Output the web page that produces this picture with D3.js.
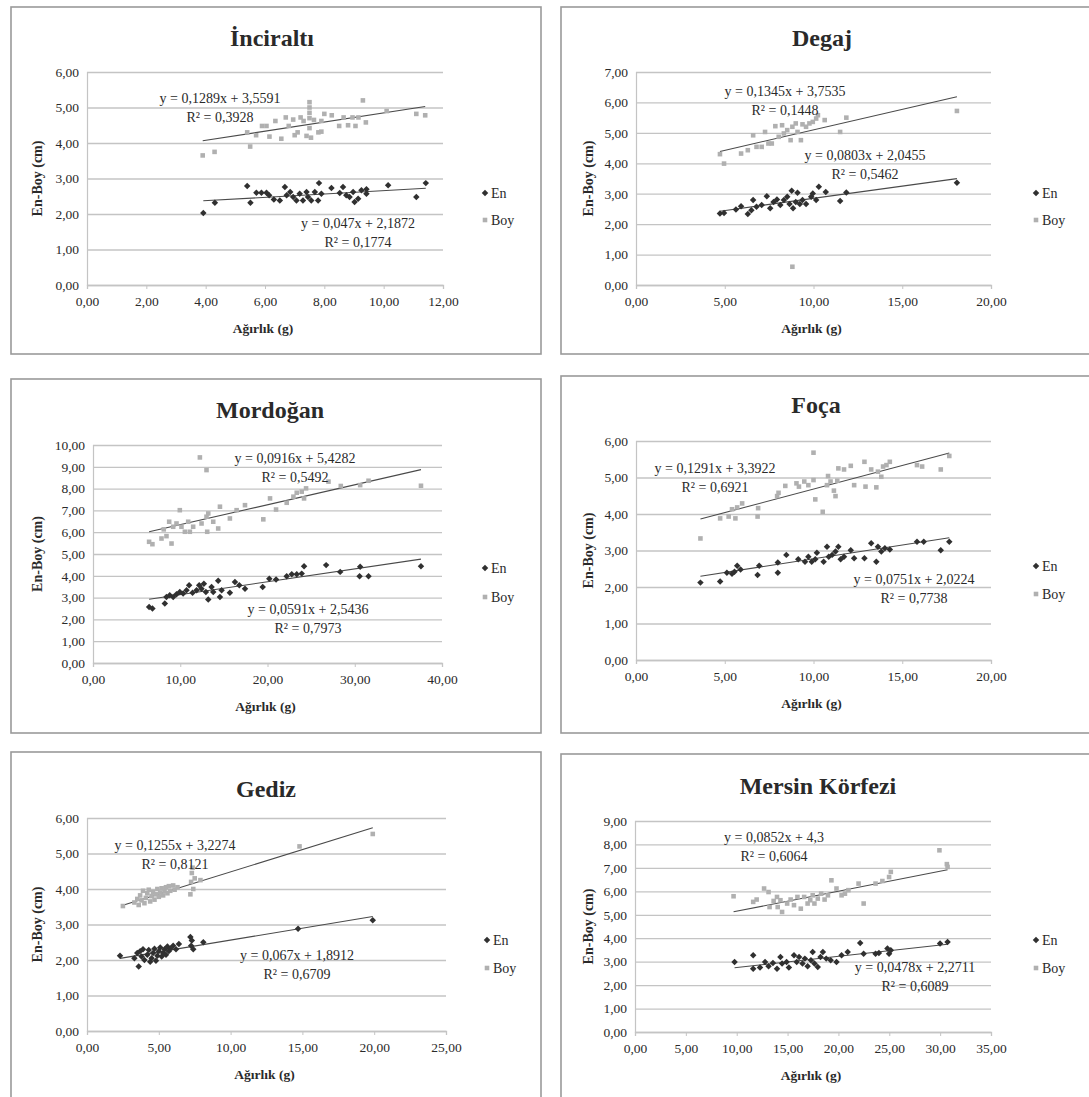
<!DOCTYPE html>
<html>
<head>
<meta charset="utf-8">
<script src="https://cdn.jsdelivr.net/npm/d3@7"></script>
<style>
  body { margin: 0; background: #fff; }
  svg { display: block; }
  text { font-family: "Liberation Serif", "Times New Roman", serif; fill: #2a2a2a; }
</style>
</head>
<body>
<svg id="chart" width="1089" height="1097"></svg>
<script>
// ---- Data ---------------------------------------------------------------
const titles = ["İnciraltı", "Degaj", "Mordoğan", "Foça", "Gediz", "Mersin Körfezi"];
const seriesNames = ["En", "Boy"];
const xAxisTitle = "Ağırlık (g)";
const yAxisTitle = "En-Boy (cm)";

const xTickValues = [
  [0, 2, 4, 6, 8, 10, 12],
  [0, 5, 10, 15, 20],
  [0, 10, 20, 30, 40],
  [0, 5, 10, 15, 20],
  [0, 5, 10, 15, 20, 25],
  [0, 5, 10, 15, 20, 25, 30, 35]
];
const yTickValues = [
  [0, 1, 2, 3, 4, 5, 6],
  [0, 1, 2, 3, 4, 5, 6, 7],
  [0, 1, 2, 3, 4, 5, 6, 7, 8, 9, 10],
  [0, 1, 2, 3, 4, 5, 6],
  [0, 1, 2, 3, 4, 5, 6],
  [0, 1, 2, 3, 4, 5, 6, 7, 8, 9]
];

// trend line coefficients (y = slope * x + intercept) and R²
const enSlopes = [0.047, 0.0803, 0.0591, 0.0751, 0.067, 0.0478];
const enIntercepts = [2.1872, 2.0455, 2.5436, 2.0224, 1.8912, 2.2711];
const enR2 = [0.1774, 0.5462, 0.7973, 0.7738, 0.6709, 0.6089];
const boySlopes = [0.1289, 0.1345, 0.0916, 0.1291, 0.1255, 0.0852];
const boyIntercepts = [3.5591, 3.7535, 5.4282, 3.3922, 3.2274, 4.3];
const boyR2 = [0.3928, 0.1448, 0.5492, 0.6921, 0.8121, 0.6064];

// [weight g, size cm]
const inciraltiEn = [[3.92,2.03],[4.31,2.32],[5.4,2.79],[5.51,2.32],[5.71,2.6],[5.88,2.6],[6.05,2.6],[6.14,2.53],[6.3,2.41],[6.5,2.38],[6.67,2.76],[6.73,2.53],[6.85,2.62],[6.95,2.48],[7.06,2.38],[7.17,2.57],[7.28,2.38],[7.4,2.62],[7.45,2.48],[7.56,2.38],[7.68,2.62],[7.79,2.38],[7.82,2.87],[7.9,2.57],[8.24,2.73],[8.52,2.59],[8.63,2.76],[8.74,2.53],[8.85,2.48],[8.97,2.62],[9.02,2.34],[9.14,2.43],[9.25,2.67],[9.42,2.57],[9.42,2.7],[10.15,2.81],[11.1,2.48],[11.42,2.87]];
const inciraltiBoy = [[3.9,3.65],[4.3,3.75],[5.4,4.3],[5.5,3.9],[5.7,4.22],[5.9,4.48],[6.05,4.48],[6.15,4.18],[6.35,4.62],[6.55,4.12],[6.7,4.72],[6.8,4.48],[6.95,4.66],[7.0,4.22],[7.1,4.3],[7.2,4.72],[7.3,4.62],[7.4,4.2],[7.5,5.15],[7.5,5.0],[7.5,4.85],[7.5,4.7],[7.5,4.42],[7.55,4.15],[7.65,4.65],[7.8,4.3],[7.9,4.62],[7.9,4.32],[8.0,4.82],[8.25,4.78],[8.5,4.48],[8.65,4.72],[8.8,4.5],[8.95,4.72],[9.05,4.48],[9.15,4.72],[9.3,5.2],[9.4,4.58],[10.1,4.9],[11.1,4.82],[11.4,4.78]];

const degajEn = [[4.73,2.35],[4.96,2.37],[5.63,2.48],[5.92,2.59],[6.3,2.33],[6.5,2.46],[6.6,2.79],[6.79,2.57],[7.08,2.63],[7.37,2.92],[7.56,2.52],[7.75,2.73],[7.94,2.81],[8.13,2.63],[8.33,2.79],[8.52,2.9],[8.65,2.66],[8.77,3.1],[8.85,2.52],[9.0,2.73],[9.1,3.03],[9.23,2.66],[9.38,2.79],[9.58,2.66],[9.87,2.9],[9.96,3.01],[10.15,2.79],[10.3,3.23],[10.69,3.06],[11.5,2.76],[11.85,3.04],[18.08,3.36]];
const degajBoy = [[4.73,4.3],[4.96,3.99],[5.92,4.32],[6.3,4.43],[6.6,4.92],[6.79,4.54],[7.08,4.54],[7.27,5.03],[7.46,4.65],[7.65,4.65],[7.85,5.22],[8.04,4.87],[8.23,5.25],[8.33,4.98],[8.52,5.09],[8.71,4.76],[8.81,5.2],[9.0,5.31],[9.1,5.03],[9.29,4.76],[9.38,5.28],[9.58,5.2],[9.77,5.31],[9.96,5.36],[10.15,5.47],[10.25,5.58],[10.63,5.42],[11.5,5.03],[11.85,5.5],[18.08,5.72],[8.81,0.6]];

const mordoganEn = [[6.43,2.57],[6.81,2.5],[8.23,2.73],[8.42,3.03],[8.8,3.11],[9.19,3.03],[9.57,3.15],[9.95,3.26],[10.33,3.19],[10.72,3.34],[11.02,3.57],[11.41,3.22],[11.87,3.34],[12.17,3.57],[12.44,3.41],[12.71,3.64],[12.94,3.26],[13.21,2.91],[13.59,3.49],[13.78,3.26],[14.35,3.77],[14.55,3.03],[14.74,3.34],[15.69,3.22],[16.27,3.72],[16.77,3.57],[17.42,3.41],[19.45,3.49],[20.21,3.87],[20.98,3.83],[22.2,3.98],[22.78,4.07],[23.35,4.07],[23.92,4.1],[24.19,4.44],[26.72,4.49],[28.33,4.18],[30.62,4.41],[30.55,3.98],[31.58,3.98],[37.59,4.44]];
const mordoganBoy = [[6.43,5.56],[6.81,5.45],[7.85,5.71],[8.11,6.13],[8.42,5.82],[8.73,6.48],[9.0,5.48],[9.19,6.25],[9.57,6.4],[9.95,7.01],[10.14,6.25],[10.53,6.02],[10.91,6.48],[11.1,6.02],[11.48,6.25],[12.25,9.43],[12.44,6.4],[13.01,8.85],[13.01,6.71],[13.21,6.86],[13.09,6.02],[13.78,6.48],[14.35,6.17],[14.55,7.17],[15.69,6.63],[16.46,7.01],[17.42,7.24],[19.52,6.59],[20.29,7.55],[20.98,7.04],[22.2,7.35],[22.97,7.63],[23.35,7.81],[23.92,7.86],[24.19,7.55],[24.42,8.01],[26.99,8.32],[28.4,8.12],[30.62,8.16],[31.58,8.36],[37.59,8.13]];

const focaEn = [[3.63,2.12],[4.74,2.15],[5.12,2.39],[5.41,2.36],[5.55,2.42],[5.7,2.58],[5.89,2.48],[6.85,2.33],[6.94,2.58],[7.99,2.67],[7.99,2.39],[8.47,2.88],[9.14,2.76],[9.52,2.69],[9.71,2.83],[9.9,2.69],[10.1,2.76],[10.19,2.94],[10.57,2.69],[10.76,3.1],[10.86,2.83],[11.05,2.88],[11.24,2.97],[11.4,3.1],[11.53,2.76],[11.72,2.83],[12.1,3.01],[12.29,2.79],[12.87,2.79],[13.25,3.2],[13.54,2.69],[13.63,3.1],[13.82,2.97],[14.02,3.06],[14.3,3.03],[15.83,3.24],[16.21,3.24],[17.17,3.01],[17.65,3.24]];
const focaBoy = [[3.63,3.33],[4.74,3.88],[5.22,3.93],[5.41,4.13],[5.6,3.88],[5.7,4.18],[5.98,4.29],[6.85,3.93],[6.88,4.16],[7.95,4.49],[8.03,4.58],[8.41,4.77],[9.04,4.84],[9.18,4.75],[9.48,4.89],[9.71,4.79],[10.0,5.68],[10.0,4.93],[10.1,4.4],[10.52,4.06],[10.76,4.79],[10.82,5.04],[10.96,4.89],[11.15,4.64],[11.24,4.49],[11.34,4.91],[11.4,5.25],[11.72,5.22],[12.1,5.32],[12.29,4.79],[12.87,5.43],[12.93,4.75],[13.25,5.22],[13.54,4.73],[13.63,5.16],[13.82,5.02],[13.92,5.3],[14.11,5.34],[14.3,5.43],[15.83,5.34],[16.12,5.3],[17.17,5.22],[17.65,5.59]];

const gedizEn = [[2.3,2.12],[3.3,2.05],[3.5,2.2],[3.6,1.82],[3.7,2.25],[3.8,2.1],[3.9,2.3],[4.0,2.0],[4.2,2.15],[4.3,2.28],[4.4,1.95],[4.5,2.05],[4.6,2.2],[4.7,2.32],[4.8,1.98],[4.9,2.12],[5.0,2.25],[5.1,2.35],[5.2,2.1],[5.3,2.2],[5.4,2.3],[5.5,2.15],[5.6,2.38],[5.7,2.25],[5.8,2.32],[6.0,2.4],[6.2,2.3],[6.4,2.45],[7.2,2.65],[7.25,2.4],[7.3,2.55],[7.4,2.3],[8.1,2.5],[14.7,2.88],[19.9,3.12]];
const gedizBoy = [[2.5,3.52],[3.3,3.62],[3.5,3.72],[3.6,3.55],[3.7,3.82],[3.8,3.68],[3.9,3.95],[4.0,3.6],[4.1,3.75],[4.2,3.88],[4.3,3.98],[4.4,3.65],[4.5,3.8],[4.6,3.92],[4.7,3.7],[4.8,3.85],[4.9,4.0],[5.0,3.78],[5.1,3.9],[5.2,4.02],[5.3,3.82],[5.4,3.95],[5.5,4.05],[5.6,3.88],[5.7,4.08],[5.8,3.95],[6.0,4.1],[6.1,3.98],[6.3,4.05],[7.2,3.85],[7.25,4.2],[7.3,4.45],[7.35,4.6],[7.4,4.0],[7.5,4.3],[7.9,4.25],[14.8,5.2],[19.9,5.55]];

const mersinEn = [[9.79,2.99],[11.62,3.27],[11.62,2.7],[12.29,2.75],[12.79,2.99],[13.13,2.8],[13.56,2.94],[13.96,2.7],[14.3,3.2],[14.46,2.92],[14.9,2.99],[15.13,2.75],[15.63,3.27],[15.9,2.99],[16.13,3.2],[16.47,2.92],[16.7,3.13],[16.97,2.8],[17.3,3.06],[17.47,3.41],[17.64,2.92],[17.97,2.77],[18.24,3.2],[18.47,3.41],[18.8,3.13],[19.24,3.06],[19.81,2.99],[20.31,3.27],[20.91,3.41],[22.14,3.8],[22.48,3.34],[23.65,3.34],[23.98,3.37],[24.82,3.56],[24.98,3.34],[25.15,3.49],[29.99,3.77],[30.73,3.84]];
const mersinBoy = [[9.69,5.79],[11.62,5.55],[11.96,5.65],[12.69,6.12],[13.13,5.97],[13.23,5.33],[13.63,5.59],[13.96,5.76],[14.03,5.33],[14.3,5.62],[14.46,5.12],[14.96,5.48],[15.3,5.65],[15.63,5.41],[15.97,5.76],[16.3,5.26],[16.63,5.76],[16.97,5.48],[17.23,5.62],[17.47,5.83],[17.64,5.48],[17.97,5.69],[18.3,5.9],[18.64,5.65],[18.97,5.83],[19.31,6.47],[19.81,6.12],[20.31,5.83],[20.64,5.9],[20.98,6.05],[21.98,6.33],[22.48,5.48],[23.65,6.33],[24.32,6.44],[24.98,6.61],[25.15,6.83],[29.93,7.75],[30.66,7.16],[30.73,7.04]];

const enSeries = [inciraltiEn, degajEn, mordoganEn, focaEn, gedizEn, mersinEn];
const boySeries = [inciraltiBoy, degajBoy, mordoganBoy, focaBoy, gedizBoy, mersinBoy];

// ---- Layout (pixel geometry of each chart block) -----------------------
const frames = [
  { box: [11, 7, 530, 347],   plot: [87, 443, 72, 285],    title: [272, 38],  yTitleX: 37,  legend: [485, 193, 220],  boyEq: [220, 98],  enEq: [358, 223] },
  { box: [561, 7, 530, 347],  plot: [636, 991, 72, 285],   title: [822, 38],  yTitleX: 588, legend: [1036, 193, 220], boyEq: [785, 91],  enEq: [865, 155] },
  { box: [11, 379, 530, 354], plot: [93, 442, 445, 663],   title: [270, 410], yTitleX: 37,  legend: [485, 568, 597],  boyEq: [295, 458], enEq: [308, 609] },
  { box: [561, 376, 530, 357], plot: [636, 991, 441, 660], title: [816, 405], yTitleX: 588, legend: [1036, 566, 594], boyEq: [715, 468], enEq: [914, 579] },
  { box: [11, 752, 530, 360], plot: [87, 446, 818, 1031],  title: [266, 789], yTitleX: 37,  legend: [487, 940, 968],  boyEq: [175, 845], enEq: [297, 955] },
  { box: [561, 754, 530, 360], plot: [635, 991, 821, 1032], title: [818, 786], yTitleX: 588, legend: [1036, 940, 968], boyEq: [774, 837], enEq: [915, 967] }
];

const colors = { en: "#303030", boy: "#b0b0b0", trend: "#4a4a4a", grid: "#c4c4c4", border: "#9a9a9a" };
const serif = '"Liberation Serif", "Times New Roman", serif';
const comma = (v) => d3.format(".2f")(v).replace(".", ",");
const num = (v) => String(v).replace(".", ",");

const svg = d3.select("#chart");

titles.forEach((title, i) => {
  const f = frames[i];
  const [bx, by, bw, bh] = f.box;
  const [pl, pr, pt, pb] = f.plot;
  const g = svg.append("g");

  // chart block border
  g.append("rect")
    .attr("x", bx).attr("y", by).attr("width", bw).attr("height", bh)
    .attr("fill", "#fff").attr("stroke", colors.border).attr("stroke-width", 1.6);

  const yTicks = yTickValues[i];
  const xTicks = xTickValues[i];
  const x = d3.scaleLinear().domain([0, d3.max(xTicks)]).range([pl, pr]);
  const y = d3.scaleLinear().domain([0, d3.max(yTicks)]).range([pb, pt]);

  // horizontal gridlines + y tick labels
  const yAxis = g.append("g")
    .attr("transform", `translate(${pl},0)`)
    .call(d3.axisLeft(y).tickValues(yTicks).tickFormat(comma).tickSize(-(pr - pl)).tickPadding(8));
  yAxis.select(".domain").attr("stroke", colors.grid).attr("stroke-width", 1.2);
  yAxis.selectAll(".tick line").attr("stroke", colors.grid).attr("stroke-width", 1.3);
  yAxis.selectAll(".tick text")
    .style("font-family", serif).style("font-size", "13.5px").attr("fill", "#333");

  // x axis
  const xAxis = g.append("g")
    .attr("transform", `translate(0,${pb})`)
    .call(d3.axisBottom(x).tickValues(xTicks).tickFormat(comma).tickSize(4).tickPadding(7));
  xAxis.select(".domain").attr("stroke", colors.grid).attr("stroke-width", 1.3);
  xAxis.selectAll(".tick line").attr("stroke", colors.grid);
  xAxis.selectAll(".tick text")
    .style("font-family", serif).style("font-size", "13.5px").attr("fill", "#333");

  // titles
  g.append("text").attr("x", f.title[0]).attr("y", f.title[1])
    .attr("text-anchor", "middle").attr("dominant-baseline", "central")
    .style("font-family", serif).style("font-size", "24px").style("font-weight", "bold")
    .attr("fill", "#111").text(title);
  g.append("text").attr("x", (pl + pr) / 2 - 2).attr("y", pb + 43)
    .attr("text-anchor", "middle").attr("dominant-baseline", "central")
    .style("font-family", serif).style("font-size", "13.5px").style("font-weight", "bold")
    .text(xAxisTitle);
  g.append("text")
    .attr("transform", `translate(${f.yTitleX},${(pt + pb) / 2}) rotate(-90)`)
    .attr("text-anchor", "middle").attr("dominant-baseline", "central")
    .style("font-family", serif).style("font-size", "14px").style("font-weight", "bold")
    .text(yAxisTitle);

  // trend lines from the stated equations, across each series' weight range
  const trends = [
    { data: enSeries[i], a: enSlopes[i], b: enIntercepts[i] },
    { data: boySeries[i], a: boySlopes[i], b: boyIntercepts[i] }
  ];
  trends.forEach(t => {
    const ext = d3.extent(t.data, d => d[0]);
    g.append("path")
      .attr("d", d3.line().x(v => x(v)).y(v => y(t.a * v + t.b))(ext))
      .attr("stroke", colors.trend).attr("stroke-width", 1.1).attr("fill", "none");
  });

  // points: En as small rotated squares, Boy as squares
  const sq = d3.symbol().type(d3.symbolSquare).size(21);
  g.append("g").selectAll("path").data(boySeries[i]).join("path")
    .attr("d", sq).attr("transform", d => `translate(${x(d[0])},${y(d[1])})`)
    .attr("fill", colors.boy);
  g.append("g").selectAll("path").data(enSeries[i]).join("path")
    .attr("d", sq).attr("transform", d => `translate(${x(d[0])},${y(d[1])}) rotate(45)`)
    .attr("fill", colors.en);

  // equation labels
  const eqs = [
    { pos: f.boyEq, a: boySlopes[i], b: boyIntercepts[i], r: boyR2[i] },
    { pos: f.enEq, a: enSlopes[i], b: enIntercepts[i], r: enR2[i] }
  ];
  eqs.forEach(e => {
    const t = g.append("text").attr("text-anchor", "middle")
      .style("font-family", serif).style("font-size", "14px").attr("fill", "#333");
    t.append("tspan").attr("x", e.pos[0]).attr("y", e.pos[1]).attr("dy", "0.35em")
      .text(`y = ${num(e.a)}x + ${num(e.b)}`);
    t.append("tspan").attr("x", e.pos[0]).attr("y", e.pos[1] + 19).attr("dy", "0.35em")
      .text(`R² = ${num(e.r)}`);
  });

  // legend
  const [lx, ly1, ly2] = f.legend;
  [[seriesNames[0], ly1, 45, colors.en], [seriesNames[1], ly2, 0, colors.boy]].forEach(([name, ly, rot, c]) => {
    g.append("path").attr("d", sq).attr("transform", `translate(${lx},${ly}) rotate(${rot})`).attr("fill", c);
    g.append("text").attr("x", lx + 6).attr("y", ly).attr("dominant-baseline", "central")
      .style("font-family", serif).style("font-size", "14px").attr("fill", "#333").text(name);
  });
});
</script>
</body>
</html>
